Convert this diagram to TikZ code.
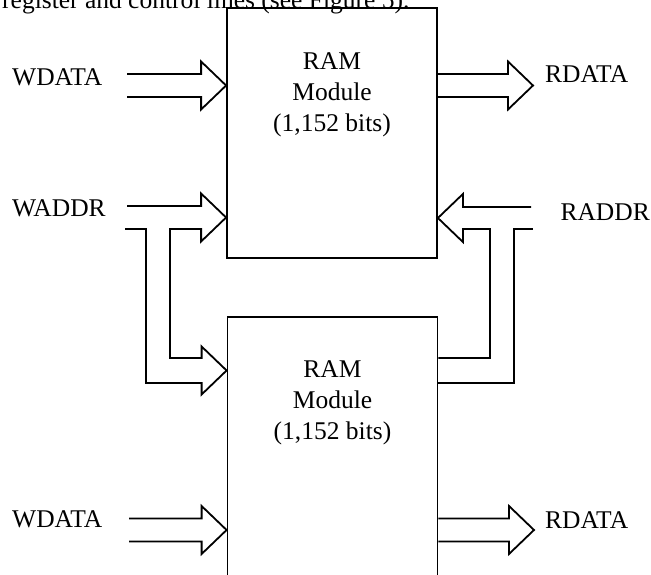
\documentclass[tikz,border=0pt]{standalone}
\usepackage{fontspec}
\setmainfont{Liberation Serif}
\usepackage{tikz}
\usetikzlibrary{positioning, calc}

% hollow bus arrows: tail centre #1, tip #2
\newcommand{\busright}[2]{%
  \draw[bus] ($(#1)+(0,-11.5)$) -- ($(#2)+(-25,-11.5)$) -- ($(#2)+(-25,-24)$) -- (#2)
    -- ($(#2)+(-25,24)$) -- ($(#2)+(-25,11.5)$) -- ($(#1)+(0,11.5)$);}

\begin{document}
\begin{tikzpicture}[
    x=1pt, y=-1pt,
    ram/.style={draw, line width=1.8pt, minimum width=210pt, inner sep=0pt},
    ramtext/.style={align=center, font=\fontsize{25.5}{31}\selectfont, inner sep=0pt},
    sig/.style={font=\fontsize{25.5}{31}\selectfont, inner sep=0pt},
    bus/.style={line width=1.8pt, line join=miter},
]
    \useasboundingbox (0,0) rectangle (651,575);

    \node[sig, anchor=base west] (ctx) at (2,9) {register and control lines (see Figure 5).};

    % RAM blocks
    \node[ram, minimum height=250pt] (ramA) at (332,133) {};
    \node[ram, minimum height=300pt] (ramB) at (332.5,467) {};
    \node[ramtext, below=45pt of ramA.north] (ramAtxt) {RAM\\Module\\(1,152 bits)};
    \node[ramtext, below=44pt of ramB.north] (ramBtxt) {RAM\\Module\\(1,152 bits)};

    % signal names
    \node[sig, anchor=west] (wdataA) at (12,77) {WDATA};
    \node[sig, anchor=west] (waddr) at (12,208) {WADDR};
    \node[sig, anchor=west] (wdataB) at (12,519.5) {WDATA};
    \node[sig, anchor=west] (rdataA) at (545,74) {RDATA};
    \node[sig, anchor=east] (raddr) at (650,212) {RADDR};
    \node[sig, anchor=west] (rdataB) at (545,520) {RDATA};

    % data buses
    \coordinate (wdA) at (127,85.5);
    \coordinate (rdA) at (533,85.5);
    \coordinate (wdB) at (129,530);
    \coordinate (rdB) at (534,530);
    \busright{wdA}{ramA.west |- wdA}
    \busright{ramA.east |- rdA}{rdA}
    \busright{wdB}{ramB.west |- wdB}
    \busright{ramB.east |- rdB}{rdB}

    % write address, split to both blocks
    \coordinate (waIn) at (127,217.5);
    \coordinate (waTip) at (ramA.west |- waIn);
    \coordinate (wbTip) at (ramB.west |- 0,370.5);
    \draw[bus] ($(waIn)+(0,-11.5)$) -- ($(waTip)+(-25,-11.5)$) -- ($(waTip)+(-25,-24)$) -- (waTip)
        -- ($(waTip)+(-25,24)$) -- ($(waTip)+(-25,11.5)$) -| (170,358)
        -- ($(wbTip)+(-25,-12.5)$) -- ($(wbTip)+(-25,-24)$) -- (wbTip)
        -- ($(wbTip)+(-25,24)$) -- ($(wbTip)+(-25,12.5)$) -| (146,229) -- (125,229);

    % read address, split to both blocks
    \coordinate (raIn) at (531,218);
    \coordinate (raTip) at (ramA.east |- raIn);
    \coordinate (rbIn) at (490,358);
    \coordinate (rcIn) at (514,383);
    \draw[bus] ($(raIn)+(0,-11)$) -- ($(raTip)+(25,-11)$) -- ($(raTip)+(25,-24)$) -- (raTip)
        -- ($(raTip)+(25,24)$) -- ($(raTip)+(25,11)$) -| (rbIn) -- (ramB.east |- rbIn);
    \draw[bus] (ramB.east |- rcIn) -| (514,229) -- (533,229);
\end{tikzpicture}
\end{document}
